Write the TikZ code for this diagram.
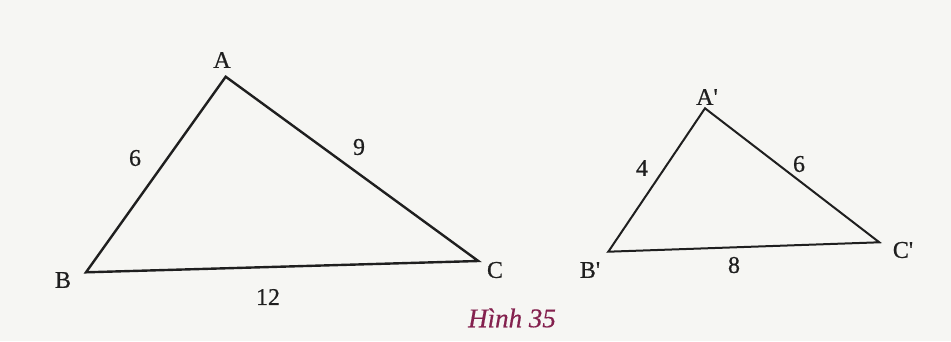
\documentclass[tikz,border=0pt]{standalone}
\usepackage{fontspec}
\setmainfont{Liberation Serif}
\newfontfamily\labelfont[FakeBold=0.6]{Liberation Serif}
\newfontfamily\capfont[FakeBold=0.4]{Liberation Serif}
\definecolor{paper}{HTML}{F6F6F3}
\definecolor{cap}{HTML}{84214E}
\tikzset{
  side/.style={line width=2.4pt, line join=miter, black!88},
  sidesmall/.style={line width=2pt, line join=miter, black!88},
  lbl/.style={font=\labelfont\fontsize{24}{27}\selectfont, text=black!88, inner sep=0pt},
  caption/.style={font=\capfont\fontsize{27}{30}\selectfont\itshape, text=cap, inner sep=0pt}
}
\begin{document}
\begin{tikzpicture}[x=1pt,y=-1pt]
\fill[paper] (0,0) rectangle (951,341);
\useasboundingbox (0,0) rectangle (951,341);
% big triangle
\coordinate (A) at (225.7,76.7);
\coordinate (B) at (86,272.3);
\coordinate (C) at (478.3,261);
\draw[side] (A) -- (B) -- (C) -- cycle;
\node[lbl] (lA) at (222,60) {A};
\node[lbl] (lB) at (63,280) {B};
\node[lbl] (lC) at (495,270) {C};
\node[lbl] (s6) at (135,158) {6};
\node[lbl] (s9) at (359,147) {9};
\node[lbl] (s12) at (268,297) {12};
% small triangle
\coordinate (A2) at (705,108.3);
\coordinate (B2) at (608.3,251.7);
\coordinate (C2) at (879.3,242.3);
\draw[sidesmall] (A2) -- (B2) -- (C2) -- cycle;
\node[lbl] (lA2) at (707,97) {A{\char"27}};
\node[lbl] (lB2) at (590,270) {B{\char"27}};
\node[lbl] (lC2) at (903,250) {C{\char"27}};
\node[lbl] (t4) at (642,168) {4};
\node[lbl] (t6) at (799,164) {6};
\node[lbl] (t8) at (734,265) {8};
% caption
\node[caption] (cap) at (512,318) {Hình 35};
\end{tikzpicture}
\end{document}
